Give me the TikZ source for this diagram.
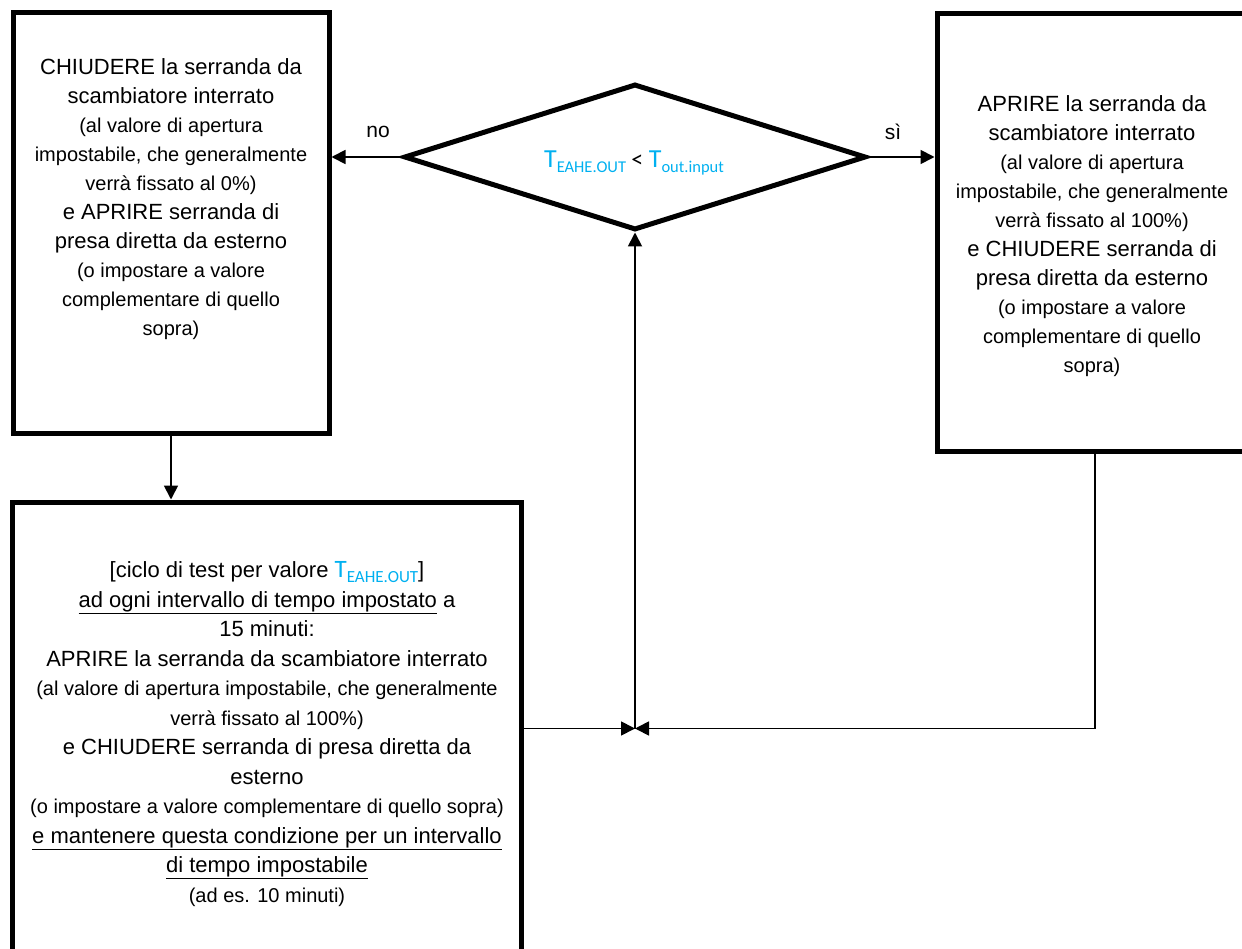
\documentclass[tikz,border=0pt]{standalone}
\usepackage{fontspec}
\setmainfont{Liberation Sans}
\newfontfamily\calfont{Carlito}
\usetikzlibrary{shapes.geometric,arrows.meta,calc}
\definecolor{tblue}{HTML}{00B0F0}
\newcommand\smtxt{\fontsize{20}{29}\selectfont}
\newcommand\tvar[3]{{\calfont\color{tblue}\fontsize{#1}{#1}\selectfont T\raisebox{-0.2em}{\fontsize{#2}{#2}\selectfont #3}}}
\begin{document}
\begin{tikzpicture}[x=1pt,y=-1pt,
  box/.style={draw, rectangle, line width=5pt, inner sep=0pt},
  txt/.style={align=center, inner sep=0pt, font=\fontsize{22}{29}\selectfont},
  conn/.style={line width=1.8pt},
  arr/.style={conn, -{Triangle[length=14pt,width=14pt]}},
  lbl/.style={inner sep=0pt, font=\fontsize{21}{21}\selectfont}]
\useasboundingbox (0,0) rectangle (1242,949);

% boxes
\node[box, minimum width=316pt, minimum height=420pt] (left) at (171,223) {};
\node[box, minimum width=316pt, minimum height=437pt] (right) at (1095,232.5) {};
\node[box, minimum width=509pt, minimum height=453pt] (bot) at (266.5,728.5) {};
\node[draw, diamond, line width=5pt, inner sep=0pt, minimum width=462pt, minimum height=146pt] (dia) at (635,157) {};

% texts
\node[txt] (lefttxt) at (171,199) {CHIUDERE la serranda da\\
scambiatore interrato\\
{\smtxt (al valore di apertura}\\
{\smtxt impostabile, che generalmente}\\
{\smtxt verrà fissato al 0\%)}\\
e APRIRE serranda di\\
presa diretta da esterno\\
{\smtxt (o impostare a valore}\\
{\smtxt complementare di quello}\\
{\smtxt sopra)}};

\node[txt] (righttxt) at (1092,236) {APRIRE la serranda da\\
scambiatore interrato\\
{\smtxt (al valore di apertura}\\
{\smtxt impostabile, che generalmente}\\
{\smtxt verrà fissato al 100\%)}\\
e CHIUDERE serranda di\\
presa diretta da esterno\\
{\smtxt (o impostare a valore}\\
{\smtxt complementare di quello}\\
{\smtxt sopra)}};

\node[txt, font=\fontsize{22}{29.5}\selectfont] (bottxt) at (267,734) {[ciclo di test per valore \tvar{25}{17}{EAHE.OUT}]\\
\underline{ad ogni intervallo di tempo impostato} a\\
15 minuti:\\
APRIRE la serranda da scambiatore interrato\\
{\smtxt (al valore di apertura impostabile, che generalmente}\\
{\smtxt verrà fissato al 100\%)}\\
e CHIUDERE serranda di presa diretta da\\
esterno\\
{\smtxt (o impostare a valore complementare di quello sopra)}\\
\underline{e mantenere questa condizione per un intervallo}\\
\underline{di tempo impostabile}\\
{\smtxt (ad es. 10 minuti)}};

\node[inner sep=0pt, font=\calfont\fontsize{24}{24}\selectfont] (diatxt) at (634,163) {\tvar{26}{16.5}{EAHE.OUT} < \tvar{26}{16.5}{out.input}};

\node[lbl] (no) at (378,132) {no};
\node[lbl] (si) at (893,132) {sì};

% connectors
\coordinate (j) at ($(dia.south)+(0,496)$);
\draw[arr] (dia.west) -- (dia.west -| left.east);
\draw[arr] (dia.east) -- (dia.east -| right.west);
\draw[arr] (left.south) -- (left.south |- bot.north);
\draw[arr] (bot.east |- j) -- (j);
\draw[arr] (right.south) |- (j);
\draw[arr] (j) -- (dia.south);
\end{tikzpicture}
\end{document}
